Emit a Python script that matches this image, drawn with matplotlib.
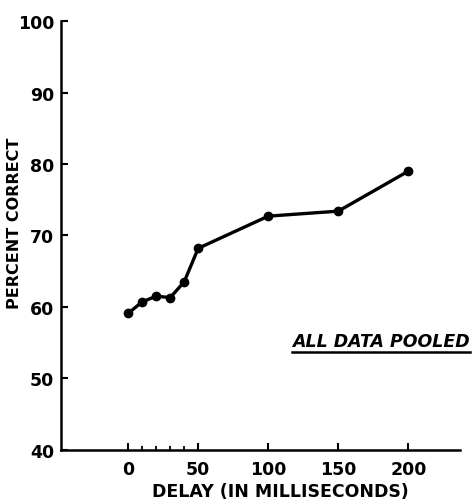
import matplotlib
matplotlib.use("Agg")
import matplotlib.pyplot as plt
from matplotlib.lines import Line2D

# values
delay = [0, 10, 20, 30, 40, 50, 100, 150, 200]
pct_correct = [59.1, 60.7, 61.5, 61.3, 63.5, 68.2, 72.7, 73.4, 79.0]

xticks = [0, 50, 100, 150, 200]
xminor = [10, 20, 30, 40]
yticks = [40, 50, 60, 70, 80, 90, 100]

fig = plt.figure(figsize=(4.72, 5.02), dpi=100)
ax = fig.add_axes([0.129, 0.102, 0.846, 0.854])

ax.plot(delay, pct_correct, color='black', lw=2.4, marker='o', ms=6, zorder=3)

ax.set_xlim(-48, 237)
ax.set_ylim(40, 100)

ax.spines['top'].set_visible(False)
ax.spines['right'].set_visible(False)
ax.spines['left'].set_linewidth(1.8)
ax.spines['bottom'].set_linewidth(1.8)

ax.set_xticks(xticks)
ax.set_xticks(xminor, minor=True)
ax.set_yticks(yticks)
ax.tick_params(axis='both', which='major', direction='in', length=5, width=1.5,
               labelsize=12.5)
ax.tick_params(axis='x', which='minor', direction='in', length=3, width=1.3)
ax.tick_params(axis='x', which='major', pad=7)
ax.tick_params(axis='y', which='major', pad=5)
for lab in ax.get_xticklabels() + ax.get_yticklabels():
    lab.set_fontweight('bold')

ax.set_xlabel('DELAY (IN MILLISECONDS)', fontsize=12.5, fontweight='bold')
ax.xaxis.set_label_coords(0.549, -0.076)
ax.set_ylabel('PERCENT CORRECT', fontsize=11.5, fontweight='bold')
ax.yaxis.set_label_coords(-0.097, 0.53)

t = fig.text(0.996, 0.309, 'ALL DATA POOLED', ha='right', va='baseline',
             fontsize=12.5, fontweight='bold', fontstyle='italic')

# underline under the label
fig.canvas.draw()
bb = t.get_window_extent().transformed(fig.transFigure.inverted())
uy = bb.y0 - 0.005
fig.add_artist(Line2D([bb.x0, bb.x1], [uy, uy], transform=fig.transFigure,
                      color='black', lw=1.8))

fig.savefig('out.png', dpi=100)
